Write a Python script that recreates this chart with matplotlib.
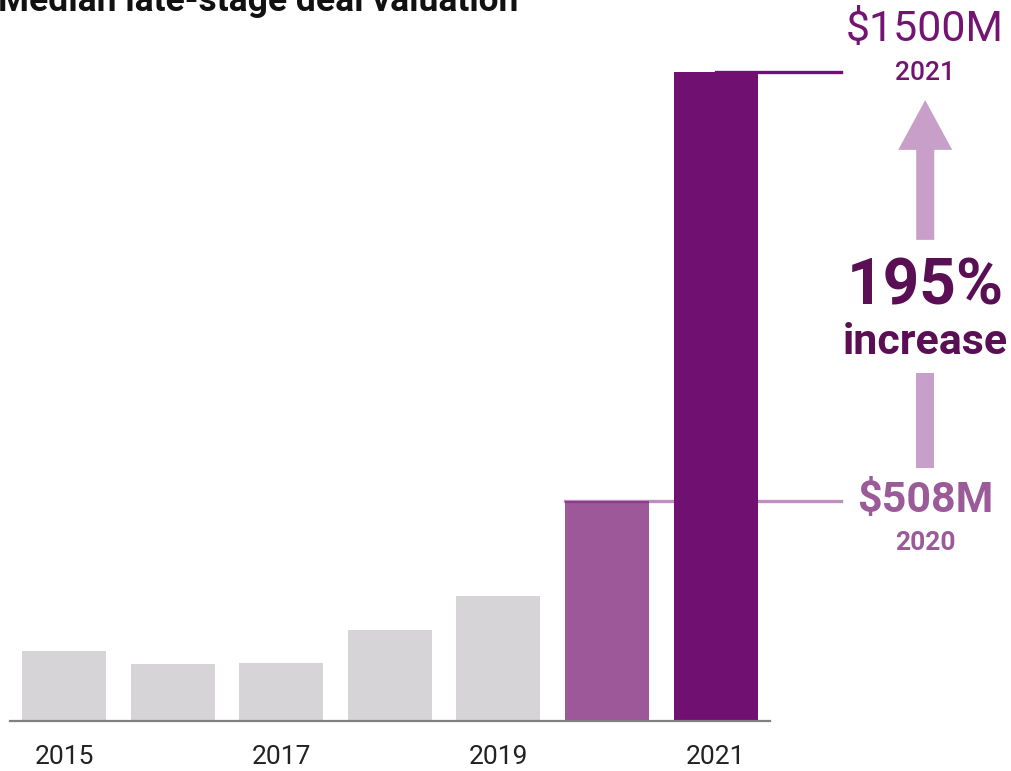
import matplotlib
matplotlib.use("Agg")
import matplotlib.pyplot as plt
from matplotlib import font_manager

# data
years = ["2015", "2016", "2017", "2018", "2019", "2020", "2021"]
valuations = [162, 132, 134, 210, 289, 508, 1500]
tick_years = ["2015", "2017", "2019", "2021"]
pct_increase = "195%"

GREY = "#d6d4d6"
MID = "#9c5898"
DARK = "#701070"

plt.rcParams["font.family"] = ["Roboto", "DejaVu Sans"]
names = {f.name for f in font_manager.fontManager.ttflist}
tick_font = "Liberation Sans Narrow" if "Liberation Sans Narrow" in names else "Roboto"

fig = plt.figure(figsize=(10.12, 7.71), dpi=100)
ax = fig.add_axes([0, 0, 1, 1])
ax.set_xlim(-0.589, 8.729)
ax.set_ylim(-115.6, 1666.4)
ax.axis("off")

x = list(range(len(years)))
colors = [GREY] * 5 + [MID, DARK]
bars = ax.bar(x, valuations, width=0.773, color=colors, zorder=2)
bars[-1].set_zorder(4)

# baseline
ax.plot([-0.5, 6.5], [0, 0], color="#808080", lw=1.6, zorder=5)

# reference lines for 2020 and 2021
ax.plot([5 - 0.387, 7.15], [valuations[5]] * 2, color="#802080", alpha=0.5, lw=2.4, zorder=3)
ax.plot([6, 7.15], [valuations[6]] * 2, color=DARK, lw=2.4, zorder=3)

# year labels
for yr in tick_years:
    ax.text(years.index(yr), -84, yr, ha="center", va="center", fontsize=19,
            family=[tick_font, "DejaVu Sans"], color="#222222")

xr = 7.93
ax.text(xr, 1598, f"${valuations[6]}M", ha="center", va="center", fontsize=31, color="#731472")
ax.text(xr, 1497, years[6], ha="center", va="center", fontsize=19, fontweight="medium", color="#731472")
ax.text(xr, 510, f"${valuations[5]}M", ha="center", va="center", fontsize=31, fontweight="bold", color="#9b5a98")
ax.text(xr, 412, years[5], ha="center", va="center", fontsize=19, fontweight="bold", color="#9b5a98")

ax.text(xr, 1003, pct_increase, ha="center", va="center", fontsize=46, fontweight="bold", color="#5a0f55")
ax.text(xr, 875, "increase", ha="center", va="center", fontsize=31, fontweight="bold", color="#5a0f55")

# arrow split around the text
ARROW = "#c89fc8"
ax.arrow(xr, 1112, 0, 1435 - 1112, width=0.166, head_width=0.497, head_length=115,
         length_includes_head=True, color=ARROW, lw=0)
ax.bar(xr, 804 - 585, bottom=585, width=0.166, color=ARROW)

fig.text(-0.002, 1 - 11 / 771, "Median late-stage deal valuation", ha="left", va="baseline",
         fontsize=25.5, fontweight="bold", color="#111111")

fig.savefig("out.png", dpi=100)
